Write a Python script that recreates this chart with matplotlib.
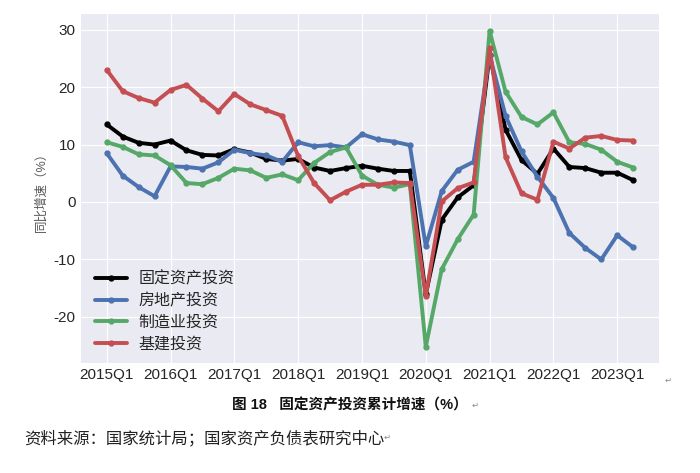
import matplotlib
matplotlib.use('Agg')
import matplotlib.pyplot as plt
import numpy as np

# quarterly cumulative YoY growth (%), 2015Q1 .. 2023Q2
quarters = [f'{y}Q{q}' for y in range(2015, 2024) for q in range(1, 5)][:34]
fai = [13.5, 11.4, 10.3, 10.0, 10.7, 9.0, 8.2, 8.1, 9.2, 8.6, 7.5, 7.2,
       7.5, 6.0, 5.4, 5.9, 6.3, 5.8, 5.4, 5.4, -16.1, -3.1, 0.8, 2.9,
       25.6, 12.6, 7.3, 4.9, 9.3, 6.1, 5.9, 5.1, 5.1, 3.8]
real_estate = [8.5, 4.6, 2.6, 1.0, 6.2, 6.1, 5.8, 6.9, 9.1, 8.5, 8.1, 7.0,
               10.4, 9.7, 9.9, 9.5, 11.8, 10.9, 10.5, 9.9, -7.7, 1.9, 5.6, 7.0,
               25.6, 15.0, 8.8, 4.4, 0.7, -5.4, -8.0, -10.0, -5.8, -7.9]
manufacturing = [10.4, 9.6, 8.3, 8.1, 6.4, 3.3, 3.1, 4.2, 5.8, 5.5, 4.2, 4.8,
                 3.8, 6.8, 8.7, 9.5, 4.6, 3.0, 2.5, 3.1, -25.2, -11.7, -6.5, -2.2,
                 29.8, 19.2, 14.8, 13.5, 15.6, 10.4, 10.1, 9.1, 7.0, 6.0]
infra = [23.0, 19.3, 18.1, 17.3, 19.5, 20.4, 18.0, 15.8, 18.8, 17.0, 16.0, 15.0,
         8.0, 3.3, 0.3, 1.8, 3.0, 3.0, 3.4, 3.3, -16.4, 0.1, 2.4, 3.4,
         26.8, 7.8, 1.5, 0.4, 10.5, 9.3, 11.2, 11.5, 10.8, 10.7]

series = [('固定资产投资', fai, 'black'),
          ('房地产投资', real_estate, '#4C72B0'),
          ('制造业投资', manufacturing, '#55A868'),
          ('基建投资', infra, '#C44E52')]

plt.style.use('seaborn-v0_8-darkgrid')
plt.rcParams['font.family'] = ['Liberation Sans', 'Noto Sans CJK SC', 'DejaVu Sans']
plt.rcParams['axes.unicode_minus'] = False

fig = plt.figure(figsize=(7, 4.73), dpi=100)
ax = fig.add_axes([0.116, 0.233, 0.825, 0.737])

x = np.arange(len(quarters))
for label, vals, color in series:
    ax.plot(x, vals, color=color, lw=2.8, marker='o', markersize=3.5, label=label)

ax.set_xlim(-1.6, 34.6)
ax.set_ylim(-28, 32.7)
ax.set_xticks(x[::4])
ax.set_xticklabels(quarters[::4])
ax.set_yticks([-20, -10, 0, 10, 20, 30])
ax.tick_params(axis='both', labelsize=11, colors='#262626', pad=4)
ax.set_ylabel('同比增速（%）', fontsize=9, color='#555555', labelpad=4)

ax.legend(loc='lower left', frameon=False, fontsize=11.5, handlelength=2.0,
          handletextpad=0.7, borderaxespad=0.3, labelspacing=0.42,
          bbox_to_anchor=(0.005, 0.0))

fig.text(0.5, 0.143, '图 18   固定资产投资累计增速（%）', ha='center', va='center',
         fontsize=10.5, fontweight='bold', color='#111111')
fig.text(0.034, 0.075, '资料来源：国家统计局；国家资产负债表研究中心', ha='left', va='center',
         fontsize=11.8, color='#222222')
fig.text(0.95, 0.19, '↵', fontsize=6, color='#888888', family='DejaVu Sans')
fig.text(0.673, 0.138, '↵', fontsize=6, color='#888888', family='DejaVu Sans')
fig.text(0.548, 0.07, '↵', fontsize=6, color='#888888', family='DejaVu Sans')

fig.savefig('out.png', dpi=100)
